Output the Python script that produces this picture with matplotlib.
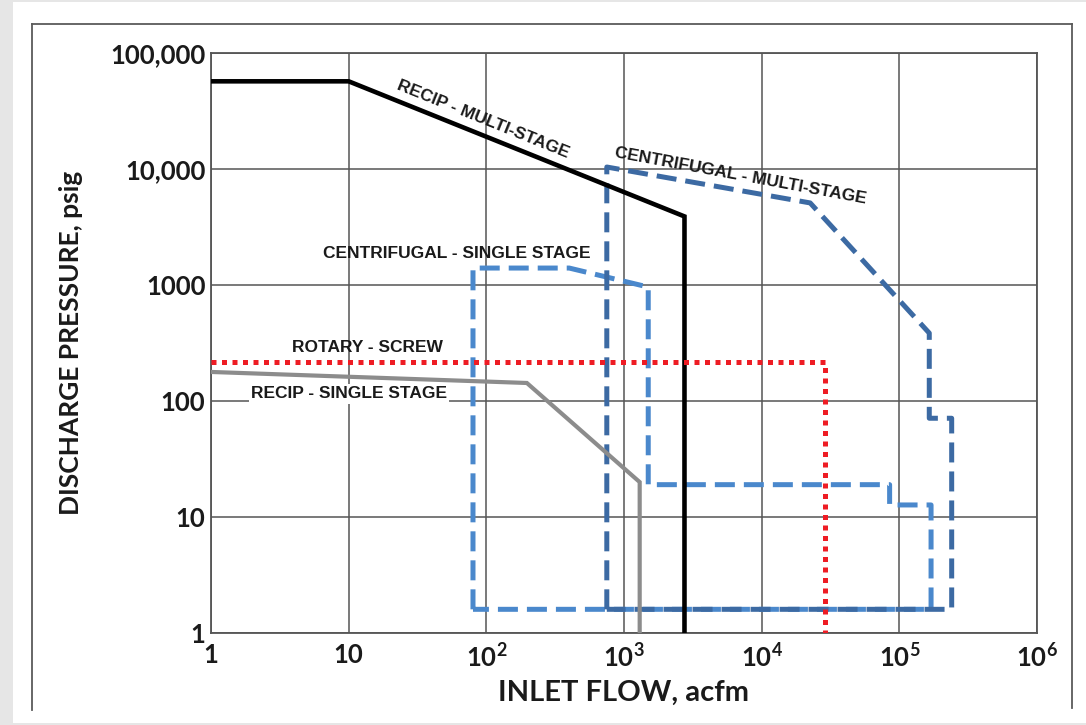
import matplotlib
matplotlib.use("Agg")
import matplotlib.pyplot as plt
from matplotlib.patches import Rectangle
from matplotlib.lines import Line2D

# ---------------- data ----------------
recip_multi_x = [1, 10, 2750, 2750]
recip_multi_y = [57000, 57000, 3900, 1]

centrifugal_multi_x = [750, 750, 22500, 165000, 165000, 240000, 240000, 750]
centrifugal_multi_y = [1.6, 10400, 5100, 385, 71, 71, 1.6, 1.6]

centrifugal_single_x = [80, 80, 400, 1500, 1500, 85000, 85000, 170000, 170000, 80]
centrifugal_single_y = [1.6, 1400, 1400, 960, 19, 19, 12.7, 12.7, 1.6, 1.6]

rotary_screw_x = [1, 29000, 29000]
rotary_screw_y = [217, 217, 1]

recip_single_x = [1, 197, 1300, 1300]
recip_single_y = [178, 143, 20, 1]

x_ticks = [1, 10, 100, 1000, 1e4, 1e5, 1e6]
x_tick_labels = ["1", "10", r"$10^{2}$", r"$10^{3}$", r"$10^{4}$", r"$10^{5}$", r"$10^{6}$"]
y_ticks = [1, 10, 100, 1000, 1e4, 1e5]
y_tick_labels = ["1", "10", "100", "1000", "10,000", "100,000"]

# ---------------- styling ----------------
plt.rcParams["mathtext.fontset"] = "custom"
plt.rcParams["mathtext.rm"] = "Lato:bold"
plt.rcParams["mathtext.it"] = "Lato:bold"
plt.rcParams["mathtext.bf"] = "Lato:bold"

W, H = 1086, 725
fig = plt.figure(figsize=(W / 100, H / 100), dpi=100)
fig.patch.set_facecolor("#e6e6e6")
bg = Rectangle((13 / W, 2 / H), 1 - 13 / W, 721 / H,
               transform=fig.transFigure, facecolor="white",
               edgecolor="none", zorder=-10)
fig.patches.append(bg)
frame_col = "#5a5a5a"
def fl(x0, y0, x1, y1):
    fig.lines.append(Line2D([x0 / W, x1 / W], [1 - y0 / H, 1 - y1 / H],
                            transform=fig.transFigure, color=frame_col, lw=1.3,
                            zorder=-5))
fl(32, 24, 1072, 24)
fl(32, 24, 32, 710)
fl(1072, 24, 1072, 708)

ax = fig.add_axes([211 / W, 1 - 633 / H, 826 / W, 580 / H])
ax.set_zorder(1)
ax.set_xscale("log")
ax.set_yscale("log")
ax.set_xlim(1, 1e6)
ax.set_ylim(1, 1e5)
ax.set_facecolor("white")

grid_col = "#555555"
ax.grid(True, which="major", color=grid_col, lw=1.1)
ax.minorticks_off()
ax.set_axisbelow(True)
for s in ax.spines.values():
    s.set_color(grid_col)
    s.set_linewidth(1.3)

ax.set_xticks(x_ticks)
ax.set_xticklabels(x_tick_labels)
ax.set_yticks(y_ticks)
ax.set_yticklabels(y_tick_labels)
ax.minorticks_off()
ax.tick_params(length=0, labelsize=18.5, colors="#1a1a1a")
ax.tick_params(axis="x", pad=7)
ax.tick_params(axis="y", pad=4)
for lab in ax.get_xticklabels() + ax.get_yticklabels():
    lab.set_fontfamily("Lato")
    lab.set_fontweight("bold")

ax.set_xlabel("INLET FLOW, acfm", fontfamily="Lato", fontweight="bold",
              fontsize=21, color="#1a1a1a")
ax.xaxis.set_label_coords(0.5, -0.08)
ax.set_ylabel("DISCHARGE PRESSURE, psig", fontfamily="Lato", fontweight="bold",
              fontsize=19, color="#1a1a1a")
ax.yaxis.set_label_coords(-0.155, 0.5)

# ---------------- lines ----------------
dark_blue = "#3c6aa3"
light_blue = "#4a88cc"

l, = ax.plot(centrifugal_single_x, centrifugal_single_y, color=light_blue,
             lw=3.6, solid_joinstyle="miter", zorder=3)
l.set_dashes((4, 1.8))
l.set_dash_capstyle("butt")
l, = ax.plot(centrifugal_multi_x, centrifugal_multi_y, color=dark_blue,
             lw=3.6, zorder=4)
l.set_dashes((4, 1.8))
l.set_dash_capstyle("butt")

ax.plot(recip_single_x, recip_single_y, color="#8c8c8c", lw=3.0, zorder=5,
        solid_joinstyle="miter")
ax.plot(recip_multi_x, recip_multi_y, color="black", lw=3.3, zorder=6,
        solid_joinstyle="miter")
l, = ax.plot(rotary_screw_x, rotary_screw_y, color="#ee1c24", lw=3.6, zorder=7)
l.set_dashes((1, 1.1))
l.set_dash_capstyle("butt")

# ---------------- labels ----------------
def px2ax(px, py):
    return ((px - 211) / 826, (633 - py) / 580)

lab_kw = dict(fontfamily="Liberation Sans", fontweight="bold", fontsize=12.5,
              color="#1a1a1a", ha="center", va="center",
              transform=ax.transAxes, zorder=10)
ax.text(*px2ax(457, 254), "CENTRIFUGAL - SINGLE STAGE", **lab_kw)
ax.text(*px2ax(367, 348), "ROTARY - SCREW", **lab_kw)
ax.text(*px2ax(349, 394), "RECIP - SINGLE STAGE",
        bbox=dict(facecolor="white", edgecolor="none", pad=1.5), **lab_kw)
ax.text(*px2ax(483, 119), "RECIP - MULTI-STAGE", rotation=-22, **lab_kw)
ax.text(*px2ax(740, 176), "CENTRIFUGAL - MULTI-STAGE", rotation=-10.5, **lab_kw)

fig.savefig("out.png", dpi=100, facecolor=fig.get_facecolor())
